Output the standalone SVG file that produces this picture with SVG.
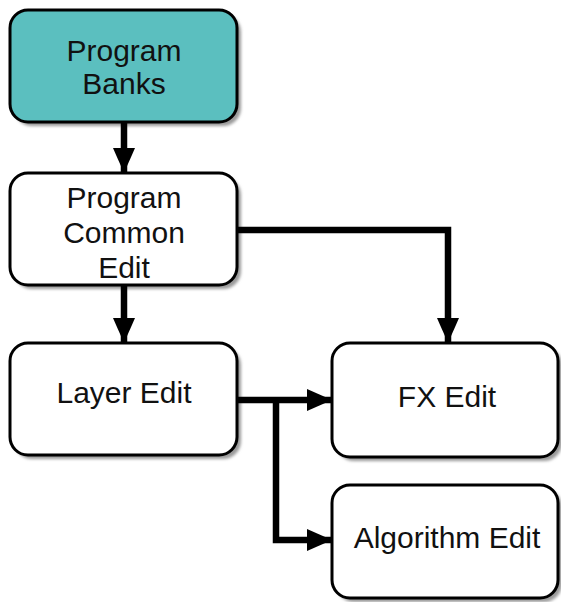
<svg xmlns="http://www.w3.org/2000/svg" width="561" height="602" viewBox="0 0 561 602">
<defs>
<marker id="ah" viewBox="0 0 25 22" refX="24" refY="11" markerWidth="25" markerHeight="22" orient="auto" markerUnits="userSpaceOnUse">
<path d="M0,0 L25,11 L0,22 z" fill="#000"/>
</marker>
<filter id="blur" x="-10%" y="-10%" width="120%" height="120%"><feGaussianBlur stdDeviation="1.5"/></filter>
</defs>
<style>
.shadow{fill:#9a9a9a;filter:url(#blur)}
.box{fill:#fff;stroke:#000;stroke-width:3}
.teal{fill:#5bbfbf}
.lbl{font-family:"Liberation Sans",Arial,sans-serif;font-size:30px;fill:#111;text-anchor:middle}
.con{fill:none;stroke:#000;stroke-width:6.5}
</style>
<rect width="561" height="602" fill="#fff"/>
<g id="banks">
<rect class="shadow" x="14" y="14" width="227" height="112" rx="18"/>
<rect class="box teal" x="10" y="10" width="227" height="112" rx="18"/>
<text class="lbl" x="124" y="61">Program</text>
<text class="lbl" x="124" y="94">Banks</text>
</g>
<g id="common">
<rect class="shadow" x="14" y="177" width="227" height="112" rx="18"/>
<rect class="box" x="10" y="173" width="227" height="112" rx="18"/>
<text class="lbl" x="124" y="208">Program</text>
<text class="lbl" x="124" y="243">Common</text>
<text class="lbl" x="124" y="278">Edit</text>
</g>
<g id="layer">
<rect class="shadow" x="14" y="347" width="227" height="112" rx="18"/>
<rect class="box" x="10" y="343" width="227" height="112" rx="18"/>
<text class="lbl" x="124" y="403">Layer Edit</text>
</g>
<g id="fx">
<rect class="shadow" x="336" y="347" width="226" height="114" rx="18"/>
<rect class="box" x="332" y="343" width="226" height="114" rx="18"/>
<text class="lbl" x="447" y="407">FX Edit</text>
</g>
<g id="algo">
<rect class="shadow" x="336" y="489" width="226" height="113" rx="18"/>
<rect class="box" x="332" y="485" width="226" height="113" rx="18"/>
<text class="lbl" x="447" y="548">Algorithm Edit</text>
</g>
<g id="connectors">
<path class="con" d="M124,123 V172" marker-end="url(#ah)"/>
<path class="con" d="M124,286 V342" marker-end="url(#ah)"/>
<path class="con" d="M238,230 H448 V342" marker-end="url(#ah)"/>
<path class="con" d="M238,400 H331" marker-end="url(#ah)"/>
<path class="con" d="M276,400 V540 H331" marker-end="url(#ah)"/>
</g>
</svg>
